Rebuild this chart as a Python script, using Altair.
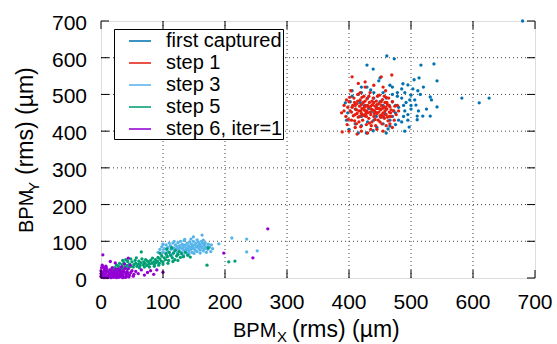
import altair as alt
import pandas as pd

FONT = "Liberation Sans"

series_names = ["first captured", "step 1", "step 3", "step 5", "step 6, iter=1"]
series_colors = ["#0072b2", "#e51e10", "#56b4e9", "#009e73", "#9400d3"]
tick_values = [0, 100, 200, 300, 400, 500, 600, 700]

# ---- first captured (blue) ----
first_x = [680, 461, 473, 429, 439, 516, 537, 513, 542, 448, 487, 495, 511, 429, 531, 533, 542, 582, 610, 626,
           506, 508, 510, 519, 531, 510, 497, 485, 466, 463, 439, 466, 402, 394,
           420, 435, 455, 470, 478, 490, 500, 485, 470, 492, 500, 480, 490, 475, 460, 445, 430, 415, 405, 410,
           398, 420, 440, 455, 470, 480, 495, 500, 515, 525, 520, 505, 470, 450, 440, 425, 460, 475, 488, 452,
           436, 418, 405, 396, 420, 445, 475, 490, 460, 428, 410, 485, 498, 512, 465, 450, 432, 478, 503, 466,
           440, 420, 455, 472, 488, 458, 444, 430, 495, 415, 400]
first_y = [700, 605, 597, 580, 569, 580, 583, 545, 537, 537, 529, 526, 510, 520, 493, 485, 466, 490, 477, 490,
           485, 471, 441, 441, 441, 431, 411, 425, 414, 406, 401, 430, 480, 477,
           520, 512, 505, 500, 495, 505, 498, 490, 480, 478, 470, 465, 455, 450, 460, 470, 490, 500, 510, 460,
           450, 440, 430, 420, 440, 430, 445, 460, 500, 460, 520, 540, 520, 545, 490, 470, 490, 470, 440, 438,
           452, 478, 495, 430, 415, 410, 418, 400, 395, 395, 420, 515, 485, 455, 470, 480, 462, 505, 515, 525,
           505, 505, 470, 455, 470, 448, 440, 425, 430, 395, 405]

# ---- step 1 (red) ----
step1_x = [469, 405, 452, 426, 389, 413, 388, 392, 478, 480, 470, 400, 430, 455,
           395, 398, 400, 402, 404, 406, 408, 410, 411, 412, 413, 414, 415, 416, 417, 418, 419, 420, 421, 422,
           423, 424, 425, 426, 427, 428, 429, 430, 431, 432, 433, 434, 435, 436, 437, 438, 439, 440, 441, 442,
           443, 444, 445, 446, 447, 448, 449, 450, 451, 452, 453, 454, 455, 456, 457, 458, 459, 460, 461, 462,
           463, 464, 465, 466, 468, 470, 472, 474, 476,
           403, 407, 409, 412, 414, 416, 418, 420, 422, 424, 426, 428, 430, 432, 434, 436, 438, 440, 442, 444,
           446, 448, 450, 452, 454, 456, 458, 460, 462, 464, 466, 468, 397, 401, 405, 409, 413, 417, 421, 425,
           429, 433, 437, 441, 445, 449, 453, 457, 461, 465, 399, 404, 410, 419, 427, 435, 443, 451, 459, 467,
           426, 440, 415, 455, 410, 445, 420, 435, 392, 396, 460, 473]
step1_y = [553, 548, 548, 534, 398, 392, 450, 455, 470, 455, 410, 400, 395, 400,
           440, 465, 480, 455, 430, 470, 490, 445, 460, 420, 475, 500, 438, 455, 468, 485, 412, 448, 462, 430,
           478, 495, 442, 456, 470, 418, 488, 450, 465, 435, 478, 505, 445, 460, 425, 472, 490, 440, 455, 468,
           415, 482, 448, 462, 430, 475, 498, 442, 458, 470, 420, 486, 450, 465, 435, 478, 510, 445, 460, 472,
           428, 490, 452, 466, 440, 480, 455, 468, 445,
           510, 442, 428, 458, 482, 425, 505, 472, 445, 458, 482, 440, 470, 495, 452, 415, 458, 478, 432, 462,
           495, 452, 425, 480, 462, 440, 455, 492, 438, 470, 420, 458, 418, 492, 465, 478, 448, 440, 492, 465,
           455, 422, 482, 448, 472, 462, 445, 495, 478, 440, 432, 452, 470, 455, 448, 468, 452, 438, 465, 450,
           520, 525, 530, 520, 410, 405, 400, 405, 470, 485, 415, 430]

# ---- step 3 (light blue) ----
step3_x = [190, 211, 235, 235, 252, 163, 149,
           92, 95, 97, 98, 100, 102, 104, 105, 107, 108, 110, 112, 113, 115, 116, 117, 118, 120, 121, 122,
           123, 124, 125, 126, 127, 128, 129, 130, 131, 132, 133, 134, 135, 136, 137, 138, 139, 140, 141, 142,
           143, 144, 145, 146, 147, 148, 149, 150, 151, 152, 153, 154, 155, 156, 157, 158, 159, 160, 161, 162,
           163, 164, 165, 166, 167, 168, 170, 172, 173, 175, 177, 110, 118, 135, 145, 155, 165, 100, 106, 114,
           124, 133, 142, 150, 160, 170, 178, 180, 119, 127, 139, 147, 157, 167]
step3_y = [93, 109, 106, 71, 74, 117, 112,
           70, 78, 65, 85, 72, 80, 68, 90, 75, 83, 70, 88, 78, 65, 95, 82, 72, 90, 78, 86,
           68, 96, 80, 74, 88, 100, 82, 70, 92, 78, 86, 102, 75, 90, 82, 68, 95, 80, 88, 74,
           98, 84, 78, 92, 70, 86, 100, 80, 90, 75, 95, 84, 72, 88, 98, 80, 92, 76, 86, 100,
           82, 94, 74, 88, 80, 96, 85, 78, 92, 84, 72, 95, 100, 105, 106, 104, 103, 92, 62, 60,
           64, 62, 66, 67, 68, 70, 90, 80, 76, 84, 76, 82, 86, 92]

# ---- step 5 (green) ----
step5_x = [65, 171, 206, 216, 173,
           15, 18, 20, 22, 24, 26, 28, 30, 32, 34, 35, 37, 38, 40, 42, 43, 45, 46, 48, 50, 52, 53, 55, 56,
           58, 60, 61, 63, 64, 66, 68, 69, 71, 72, 74, 75, 77, 78, 80, 82, 83, 85, 86, 88, 89, 91, 92, 94,
           95, 97, 98, 100, 102, 104, 105, 107, 109, 110, 112, 114, 115, 117, 119, 120, 122, 124, 126, 128,
           130, 133, 136, 140, 144, 95, 106, 114, 25, 30, 35, 40, 48, 57, 62, 70, 78, 86, 93, 100, 108, 116, 124]
step5_y = [71, 35, 44, 46, 82,
           15, 22, 12, 28, 18, 25, 32, 20, 28, 36, 24, 42, 30, 26, 34, 45, 28, 38, 32, 44, 30, 36, 48, 40,
           32, 38, 46, 34, 42, 52, 36, 44, 40, 50, 34, 46, 42, 38, 48, 40, 54, 44, 36, 50, 42, 46, 56, 40,
           52, 46, 60, 44, 55, 50, 66, 58, 48, 70, 62, 82, 55, 68, 50, 75, 60, 64, 72, 56,
           66, 58, 70, 62, 57, 68, 79, 82, 35, 40, 48, 50, 52, 55, 28, 30, 30, 32, 35, 38, 40, 45, 48]

# ---- step 6, iter=1 (purple) ----
step6_x = [269, 198, 245, 100, 90, 3, 44, 52, 47, 23, 38, 15,
           1, 2, 3, 4, 5, 6, 7, 8, 9, 10, 11, 12, 13, 14, 15, 16, 17, 18, 19, 20, 21, 22, 23, 24, 25, 26,
           27, 28, 29, 30, 31, 32, 33, 34, 35, 36, 37, 38, 39, 40, 41, 42, 43, 44, 46, 48, 50, 53, 56, 60,
           65, 70, 75, 80, 85, 0, 0, 0, 1, 2, 4, 6, 8, 5, 10, 15, 20, 25, 30, 35, 40, 45, 12, 18, 22, 26,
           30, 34, 28, 16, 8]
step6_y = [134, 68, 55, 16, 22, 63, 54, 5, 35, 41, 38, 45,
           2, 8, 15, 4, 20, 10, 2, 14, 26, 6, 18, 3, 12, 22, 8, 1, 16, 28, 5, 12, 20, 3, 9, 24, 14, 6,
           18, 2, 10, 22, 15, 4, 30, 12, 8, 20, 2, 16, 26, 10, 5, 18, 13, 25, 8, 15, 20, 10, 18, 12,
           22, 8, 15, 20, 10, 5, 12, 20, 28, 35, 30, 25, 32, 1, 1, 4, 2, 1, 3, 1, 2, 3, 8, 10, 15, 10,
           8, 18, 25, 22, 20]


def frame(xs, ys, name):
    return pd.DataFrame({"x": xs, "y": ys, "series": name})


df = pd.concat([
    frame(first_x, first_y, series_names[0]),
    frame(step1_x, step1_y, series_names[1]),
    frame(step3_x, step3_y, series_names[2]),
    frame(step5_x, step5_y, series_names[3]),
    frame(step6_x, step6_y, series_names[4]),
], ignore_index=True)

W, H = 434, 257
xscale = alt.Scale(domain=[0, 700], nice=False, zero=False)
yscale = alt.Scale(domain=[0, 700], nice=False, zero=False)

ticks_df = pd.DataFrame({"v": tick_values, "lbl": [str(v) for v in tick_values]})
inner_df = pd.DataFrame({"v": tick_values[1:-1]})

# dotted grid
grid_v = alt.Chart(inner_df).mark_rule(color="#444", strokeWidth=1, strokeDash=[1, 3]).encode(
    x=alt.X("v:Q", scale=xscale, axis=None), y=alt.value(0), y2=alt.value(H))
grid_h = alt.Chart(inner_df).mark_rule(color="#444", strokeWidth=1, strokeDash=[1, 3]).encode(
    y=alt.Y("v:Q", scale=yscale, axis=None), x=alt.value(0), x2=alt.value(W))

legend = alt.Legend(
    orient="none", legendX=13, legendY=8, title=None,
    symbolType="M-1,-0.07H1V0.07H-1Z", symbolSize=484, symbolOpacity=1,
    labelFontSize=20, labelFont=FONT, labelColor="black", labelLimit=0,
    labelExpr="datum.label + '\u00a0'",
    padding=0, fillColor="white", strokeColor="black", rowPadding=0,
    symbolOffset=14, labelOffset=14,
)

points = alt.Chart(df).mark_circle(size=11, opacity=1).encode(
    x=alt.X("x:Q", scale=xscale, axis=None),
    y=alt.Y("y:Q", scale=yscale, axis=None),
    color=alt.Color("series:N", scale=alt.Scale(domain=series_names, range=series_colors), legend=legend),
)

TL = 8
tick_bottom = alt.Chart(ticks_df).mark_rule(color="black", strokeWidth=1).encode(
    x=alt.X("v:Q", scale=xscale, axis=None), y=alt.value(H), y2=alt.value(H - TL))
tick_top = alt.Chart(ticks_df).mark_rule(color="black", strokeWidth=1).encode(
    x=alt.X("v:Q", scale=xscale, axis=None), y=alt.value(0), y2=alt.value(TL))
tick_left = alt.Chart(ticks_df).mark_rule(color="black", strokeWidth=1).encode(
    y=alt.Y("v:Q", scale=yscale, axis=None), x=alt.value(0), x2=alt.value(TL))
tick_right = alt.Chart(ticks_df).mark_rule(color="black", strokeWidth=1).encode(
    y=alt.Y("v:Q", scale=yscale, axis=None), x=alt.value(W), x2=alt.value(W - TL))

x_labels = alt.Chart(ticks_df).mark_text(font=FONT, fontSize=21, align="center", baseline="alphabetic",
                                          color="black").encode(
    x=alt.X("v:Q", scale=xscale, axis=None), y=alt.value(H + 31), text="lbl:N")
y_labels = alt.Chart(ticks_df).mark_text(font=FONT, fontSize=21, align="right", baseline="alphabetic",
                                          color="black", dy=9).encode(
    y=alt.Y("v:Q", scale=yscale, axis=None), x=alt.value(-14), text="lbl:N")


def label(text, x, y, size, angle=0):
    kw = dict(font=FONT, fontSize=size, align="left", baseline="alphabetic", color="black")
    if angle:
        kw["angle"] = angle
    return alt.Chart(pd.DataFrame({"t": [text]})).mark_text(**kw).encode(
        text="t:N", x=alt.value(x), y=alt.value(y))


x_title = [
    label("BPM", 132, 316, 20),
    label("X", 176, 321, 15),
    label("(rms) (µm)", 191, 316, 23),
]
y_title = [
    label("BPM", -68, 212, 20, 270),
    label("Y", -62, 171, 15, 270),
    label("(rms) (µm)", -68, 154, 23, 270),
]

chart = alt.layer(grid_v, grid_h, points, tick_bottom, tick_top, tick_left, tick_right,
                  x_labels, y_labels, *x_title, *y_title).properties(
    width=W, height=H,
    autosize=alt.AutoSizeParams(type="none"),
    padding={"left": 101, "top": 21, "right": 22, "bottom": 66},
).configure_view(stroke="black", strokeWidth=1.5).configure(background="white")

chart.save("out.html", embed_options={"renderer": "svg", "actions": False})
